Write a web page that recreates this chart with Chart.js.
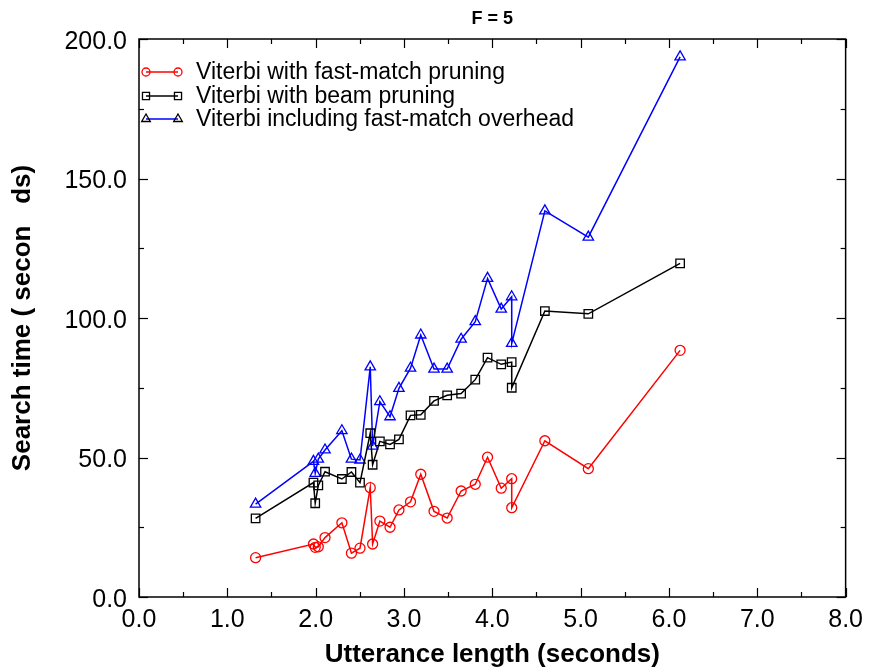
<!DOCTYPE html>
<html><head><meta charset="utf-8">
<script src="https://cdn.jsdelivr.net/npm/chart.js@4.4.0/dist/chart.umd.min.js"></script>
<style>html,body{margin:0;padding:0;background:#fff}</style>
</head><body>
<canvas id="c" width="871" height="671" style="display:block;width:871px;height:671px"></canvas>
<script>
// ---- data ----
const chartTitle = 'F = 5';
const xAxisTitle = 'Utterance length (seconds)';
const yAxisTitle = 'Search time ( secon   ds)';
const seriesNames = ['Viterbi with fast-match pruning', 'Viterbi with beam pruning', 'Viterbi including fast-match overhead'];
const utteranceLength = [1.32, 1.975, 1.995, 2.03, 2.106, 2.297, 2.405, 2.502, 2.618, 2.645, 2.727, 2.842, 2.943, 3.074, 3.19, 3.34, 3.489, 3.647, 3.807, 3.946, 4.101, 4.219, 4.22, 4.595, 5.087, 6.126];
const fastMatch = [14.1, 19.0, 17.8, 18.0, 21.3, 26.6, 15.7, 17.5, 39.2, 19.0, 27.2, 25.0, 31.2, 34.1, 44.0, 30.7, 28.3, 38.0, 40.4, 50.1, 39.0, 42.4, 32.0, 56.0, 46.0, 88.4];
const beam = [28.2, 41.0, 33.6, 40.0, 44.9, 42.3, 44.8, 41.0, 58.7, 47.4, 55.8, 54.7, 56.5, 65.1, 65.3, 70.3, 72.3, 72.9, 77.9, 85.8, 83.4, 84.2, 75.0, 102.5, 101.5, 119.6];
const overhead = [33.3, 48.6, 44.3, 49.4, 52.7, 59.6, 49.4, 49.1, 82.5, 54.1, 70.0, 64.6, 74.8, 82.0, 93.9, 81.7, 81.7, 92.4, 98.7, 114.2, 103.2, 107.6, 90.9, 138.4, 129.0, 193.6];
const xTickStep = 1, xMinorStep = 0.5, xMin = 0, xMax = 8;
const yTickStep = 50, yMinorStep = 25, yMin = 0, yMax = 200;

const FONT = '"Liberation Sans", Arial, sans-serif';
const toPts = ys => ys.map((v, i) => ({x: utteranceLength[i], y: v}));

const styles = [
  {color: '#ff0000', point: 'circle', r: 5, legendPointColor: '#ff0000'},
  {color: '#000000', point: 'rect', r: 6, legendPointColor: '#000000'},
  {color: '#0000ff', point: 'triangle', r: 6, legendPointColor: '#000000'}
];
const seriesData = [fastMatch, beam, overhead];

const framePlugin = {
  id: 'frame',
  afterDatasetsDraw(chart) {
    const {ctx, chartArea: a, scales: {x, y}} = chart;
    ctx.save();
    ctx.strokeStyle = '#000';
    ctx.lineWidth = 1.5;
    ctx.strokeRect(a.left, a.top, a.right - a.left, a.bottom - a.top);
    ctx.lineWidth = 1.2;
    const seg = (x1, y1, x2, y2) => { ctx.beginPath(); ctx.moveTo(x1, y1); ctx.lineTo(x2, y2); ctx.stroke(); };
    for (let v = xMin; v <= xMax + 1e-9; v += xMinorStep) {
      const px = Math.round(x.getPixelForValue(v)) + 0.5;
      const major = Math.abs(v / xTickStep - Math.round(v / xTickStep)) < 1e-6;
      const L = major ? 9 : 5;
      seg(px, a.bottom, px, a.bottom - L);
      seg(px, a.top, px, a.top + L);
    }
    for (let v = yMin; v <= yMax + 1e-9; v += yMinorStep) {
      const py = Math.round(y.getPixelForValue(v)) + 0.5;
      const major = Math.abs(v / yTickStep - Math.round(v / yTickStep)) < 1e-6;
      const L = major ? 9 : 5;
      seg(a.left, py, a.left + L, py);
      seg(a.right, py, a.right - L, py);
    }
    // title
    ctx.fillStyle = '#000';
    ctx.font = 'bold 18px ' + FONT;
    ctx.textAlign = 'center';
    ctx.textBaseline = 'middle';
    ctx.fillText(chartTitle, (a.left + a.right) / 2, 19);
    // legend
    const lx1 = a.left + 7, lx2 = a.left + 39, tx = a.left + 57;
    const rows = [72, 96, 119];
    seriesNames.forEach((name, i) => {
      const s = styles[i], ry = rows[i];
      ctx.strokeStyle = s.color; ctx.lineWidth = 1.5;
      seg(lx1, ry, lx2, ry);
      const pOpts = {pointStyle: s.point, radius: s.r - 1, borderWidth: 1.3};
      ctx.strokeStyle = s.legendPointColor;
      ctx.fillStyle = 'rgba(0,0,0,0)';
      ctx.lineWidth = 1.3;
      Chart.helpers.drawPoint(ctx, pOpts, lx1, ry);
      Chart.helpers.drawPoint(ctx, pOpts, lx2, ry);
      ctx.fillStyle = '#000';
      ctx.font = '23px ' + FONT;
      ctx.textAlign = 'left';
      ctx.textBaseline = 'middle';
      ctx.fillText(name, tx, ry + 1);
    });
    ctx.restore();
  }
};

Chart.defaults.color = '#000';
new Chart(document.getElementById('c'), {
  type: 'scatter',
  data: {
    datasets: seriesData.map((d, i) => ({
      label: seriesNames[i],
      data: toPts(d),
      showLine: true,
      borderColor: styles[i].color,
      backgroundColor: 'rgba(0,0,0,0)',
      borderWidth: 1.5,
      pointStyle: styles[i].point,
      pointRadius: styles[i].r,
      pointHoverRadius: styles[i].r,
      pointBorderWidth: 1.3,
      pointBorderColor: styles[i].color,
      pointBackgroundColor: 'rgba(0,0,0,0)',
      tension: 0
    }))
  },
  options: {
    responsive: false,
    animation: false,
    events: [],
    layout: {padding: {top: 39, right: 19, left: 0, bottom: 0}},
    plugins: {legend: {display: false}, title: {display: false}, tooltip: {enabled: false}},
    scales: {
      x: {
        type: 'linear', min: xMin, max: xMax,
        grid: {display: false, drawTicks: false},
        border: {display: false},
        ticks: {stepSize: xTickStep, autoSkip: false, maxRotation: 0, padding: 8,
          font: {family: FONT, size: 25}, color: '#000',
          callback: v => Number(v).toFixed(1)},
        title: {display: true, text: xAxisTitle, color: '#000',
          font: {family: FONT, size: 26, weight: 'bold'}, padding: {top: 0, bottom: 1}},
        afterFit: s => { s.height = 74; }
      },
      y: {
        type: 'linear', min: yMin, max: yMax,
        grid: {display: false, drawTicks: false},
        border: {display: false},
        ticks: {stepSize: yTickStep, autoSkip: false, padding: 12, labelOffset: 3,
          font: {family: FONT, size: 25}, color: '#000',
          callback: v => Number(v).toFixed(1)},
        title: {display: true, text: yAxisTitle, color: '#000',
          font: {family: FONT, size: 26, weight: 'bold'}, padding: {top: 7, bottom: 0}},
        afterFit: s => { s.width = 139; }
      }
    }
  },
  plugins: [framePlugin]
});
</script>
</body></html>
